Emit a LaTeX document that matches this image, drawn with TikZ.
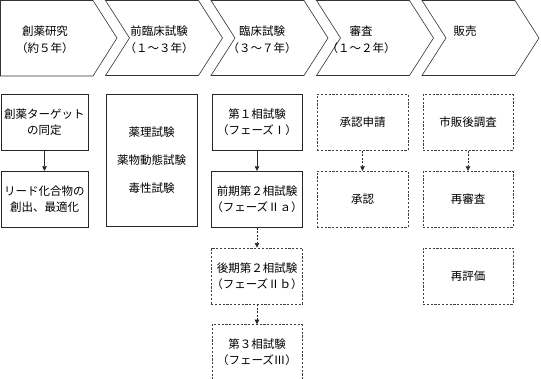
\documentclass[tikz,border=0pt]{standalone}
\usepackage{fontspec}
\setmainfont{Noto Sans CJK JP}
\usetikzlibrary{arrows.meta, positioning}

\tikzset{
  phase/.style={draw=black!80, line width=0.6pt, line join=miter},
  phasetext/.style={anchor=north, align=center, inner sep=0pt,
    font=\fontsize{11.5pt}{17pt}\selectfont},
  stagebox/.style={draw=black!85, line width=0.7pt, minimum height=56pt,
    inner sep=0pt, align=center, font=\fontsize{11.5pt}{16pt}\selectfont},
  planbox/.style={stagebox, draw=black!75, dash pattern=on 2.2pt off 1.6pt},
  flow/.style={-{Triangle[length=4.5pt,width=4.5pt]}, line width=0.6pt, draw=black!85},
  planflow/.style={flow, dash pattern=on 2pt off 1.5pt},
}

\begin{document}
\begin{tikzpicture}[x=1pt, y=-1pt]
  \useasboundingbox (0,0) rectangle (541,379);

  % phase arrows along the top
  \draw[phase] (0.5,0.5) -- (93,0.5) -- (117,38) -- (93,76) -- (0.5,76) -- cycle;
  \foreach \i in {1,...,4} {
    \pgfmathsetmacro{\xo}{105.5*\i}
    \draw[phase] (\xo,0.5) -- ++(93,0) -- ++(24,37.5) -- ++(-24,37.5)
      -- ++(-93,0) -- ++(24,-37.5) -- cycle;
  }
  \foreach \i/\cx/\txt in {0/45/{創薬研究\\（約５年）},
                           1/159/{前臨床試験\\（１〜３年）},
                           2/262/{臨床試験\\（３〜７年）},
                           3/361/{審査\\（１〜２年）},
                           4/465/{販売}}
    \node[phasetext] (phase\i) at (\cx,26) {\txt};

  % discovery
  \node[stagebox, minimum width=87pt] (target) at (44.5,122.5) {創薬ターゲット\\の同定};
  \node[stagebox, minimum width=87pt, below=20pt of target] (lead) {リード化合物の\\創出、最適化};

  % preclinical
  \node[stagebox, minimum width=91pt, minimum height=132pt] (preclin) at (151.5,160.5)
    {薬理試験\\[12pt]薬物動態試験\\[12pt]毒性試験};

  % clinical
  \node[stagebox, minimum width=90pt] (ph1) at (257,122.5) {第１相試験\\（フェーズⅠ）};
  \node[stagebox, minimum width=90pt, below=20pt of ph1] (ph2a) {前期第２相試験\\（フェーズⅡａ）};
  \node[planbox, minimum width=90pt, below=20pt of ph2a] (ph2b) {後期第２相試験\\（フェーズⅡｂ）};
  \node[planbox, minimum width=90pt, below=20pt of ph2b] (ph3) {第３相試験\\（フェーズⅢ）};

  % review
  \node[planbox, minimum width=91pt] (filing) at (362.5,122.5) {承認申請};
  \node[planbox, minimum width=91pt, below=20pt of filing] (approval) {承認};

  % sales
  \node[planbox, minimum width=90pt] (survey) at (468,122.5) {市販後調査};
  \node[planbox, minimum width=90pt, below=20pt of survey] (reexam) {再審査};
  \node[planbox, minimum width=90pt, below=20pt of reexam] (reeval) {再評価};

  % connectors
  \draw[flow] (target) -- (lead);
  \draw[flow] (ph1) -- (ph2a);
  \draw[planflow] (ph2a) -- (ph2b);
  \draw[planflow] (ph2b) -- (ph3);
  \draw[planflow] (filing) -- (approval);
  \draw[planflow] (survey) -- (reexam);
\end{tikzpicture}
\end{document}
